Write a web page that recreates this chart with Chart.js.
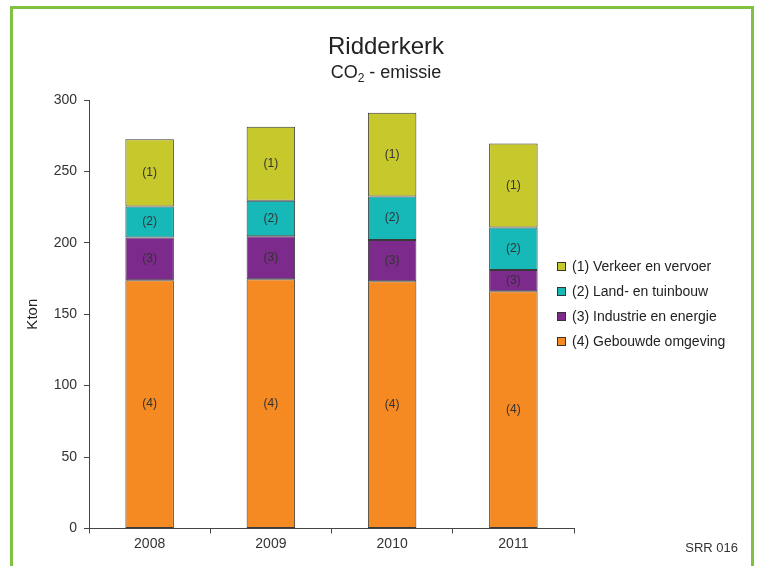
<!DOCTYPE html>
<html>
<head>
<meta charset="utf-8">
<title>Ridderkerk CO2-emissie</title>
<script src="https://cdn.jsdelivr.net/npm/chart.js@4.4.1/dist/chart.umd.min.js"></script>
<style>
  body { margin: 0; background: #fff; }
  #wrap { position: relative; width: 758px; height: 566px; overflow: hidden;
          font-family: "Liberation Sans", Arial, sans-serif; color: #222; }
  #frame { position: absolute; left: 10px; top: 6px; width: 738px; height: 620px;
           border: 3px solid #7fc241; border-bottom: none; pointer-events: none; }
  #grafiek { position: absolute; left: 0; top: 0; }
  .kop { position: absolute; left: 236px; width: 300px; text-align: center; white-space: nowrap; }
  #titel { top: 32px; font-size: 24px; line-height: 28px; }
  #subtitel { top: 61px; font-size: 18px; line-height: 22px; }
  #subtitel sub { font-size: 12px; vertical-align: -4px; line-height: 0; }
  #bron { position: absolute; right: 20px; top: 540px; font-size: 13px; color: #333; }
</style>
</head>
<body>
<div id="wrap">
  <canvas id="grafiek" width="758" height="566"></canvas>
  <div id="titel" class="kop">Ridderkerk</div>
  <div id="subtitel" class="kop">CO<sub>2</sub> - emissie</div>
  <div id="bron">SRR 016</div>
  <div id="frame"></div>
</div>
<script>
  const jaren = ['2008', '2009', '2010', '2011'];
  const gebouwd = [173.7, 174.5, 173, 166];
  const industrie = [30, 30, 29, 15];
  const landbouw = [21.8, 25, 30.5, 29.8];
  const verkeer = [47, 51.7, 58.5, 58.8];
  const yTicks = [0, 50, 100, 150, 200, 250, 300];

  const lettertype = '"Liberation Sans", Arial, sans-serif';

  // labels (1)..(4) midden in elk blokje
  const blokLabels = {
    id: 'blokLabels',
    afterDatasetsDraw(chart) {
      const ctx = chart.ctx;
      ctx.save();
      ctx.font = '12px ' + lettertype;
      ctx.fillStyle = '#333';
      ctx.textAlign = 'center';
      ctx.textBaseline = 'middle';
      chart.data.datasets.forEach((ds, i) => {
        const code = ds.label.slice(0, 3);
        chart.getDatasetMeta(i).data.forEach(bar => {
          ctx.fillText(code, bar.x, (bar.y + bar.base) / 2);
        });
      });
      ctx.restore();
    }
  };

  // legenda rechts, (1) bovenaan
  const zijLegenda = {
    id: 'zijLegenda',
    afterDraw(chart) {
      const ctx = chart.ctx;
      const sets = chart.data.datasets.slice().reverse();
      ctx.save();
      ctx.font = '14px ' + lettertype;
      ctx.textBaseline = 'middle';
      sets.forEach((ds, i) => {
        const y = 266 + i * 25;
        ctx.fillStyle = ds.backgroundColor;
        ctx.fillRect(557, y - 4, 9, 9);
        ctx.strokeStyle = '#333';
        ctx.lineWidth = 1;
        ctx.strokeRect(557.5, y - 3.5, 8, 8);
        ctx.fillStyle = '#222';
        ctx.fillText(ds.label, 572, y + 1);
      });
      ctx.restore();
    }
  };

  const grafiek = new Chart(document.getElementById('grafiek'), {
    type: 'bar',
    data: {
      labels: jaren,
      datasets: [
        { label: '(4) Gebouwde omgeving', data: gebouwd, backgroundColor: '#f58a22' },
        { label: '(3) Industrie en energie', data: industrie, backgroundColor: '#7c2a8c' },
        { label: '(2) Land- en tuinbouw', data: landbouw, backgroundColor: '#17b8b8' },
        { label: '(1) Verkeer en vervoer', data: verkeer, backgroundColor: '#c6c82c' }
      ]
    },
    options: {
      responsive: false,
      animation: false,
      layout: { padding: { left: 20, right: 184, top: 100, bottom: 10.8 } },
      datasets: {
        bar: { borderColor: '#3a3a3a', borderWidth: 1, borderSkipped: false,
               barPercentage: 0.4, categoryPercentage: 1 }
      },
      plugins: {
        legend: { display: false },
        tooltip: { enabled: false }
      },
      scales: {
        x: {
          stacked: true,
          grid: { display: true, drawOnChartArea: false, drawTicks: true, tickLength: 5, color: '#444', offset: true },
          border: { display: true, color: '#444', width: 1 },
          ticks: { color: '#333', padding: 2.5, font: { family: lettertype, size: 14, lineHeight: 1.2 } }
        },
        y: {
          stacked: true,
          min: 0, max: 300,
          afterFit: s => { s.width = 69; s.paddingTop = 0; s.paddingBottom = 0; },
          afterBuildTicks: s => { s.ticks = yTicks.map(v => ({ value: v })); },
          grid: { display: true, drawOnChartArea: false, drawTicks: true, tickLength: 5, color: '#444' },
          border: { display: true, color: '#444', width: 1 },
          ticks: { color: '#333', padding: 7, font: { family: lettertype, size: 14, lineHeight: 1.2 } },
          title: { display: true, text: 'Kton', color: '#222', font: { family: lettertype, size: 15, lineHeight: 1.2 } }
        }
      }
    },
    plugins: [blokLabels, zijLegenda]
  });
</script>
</body>
</html>
